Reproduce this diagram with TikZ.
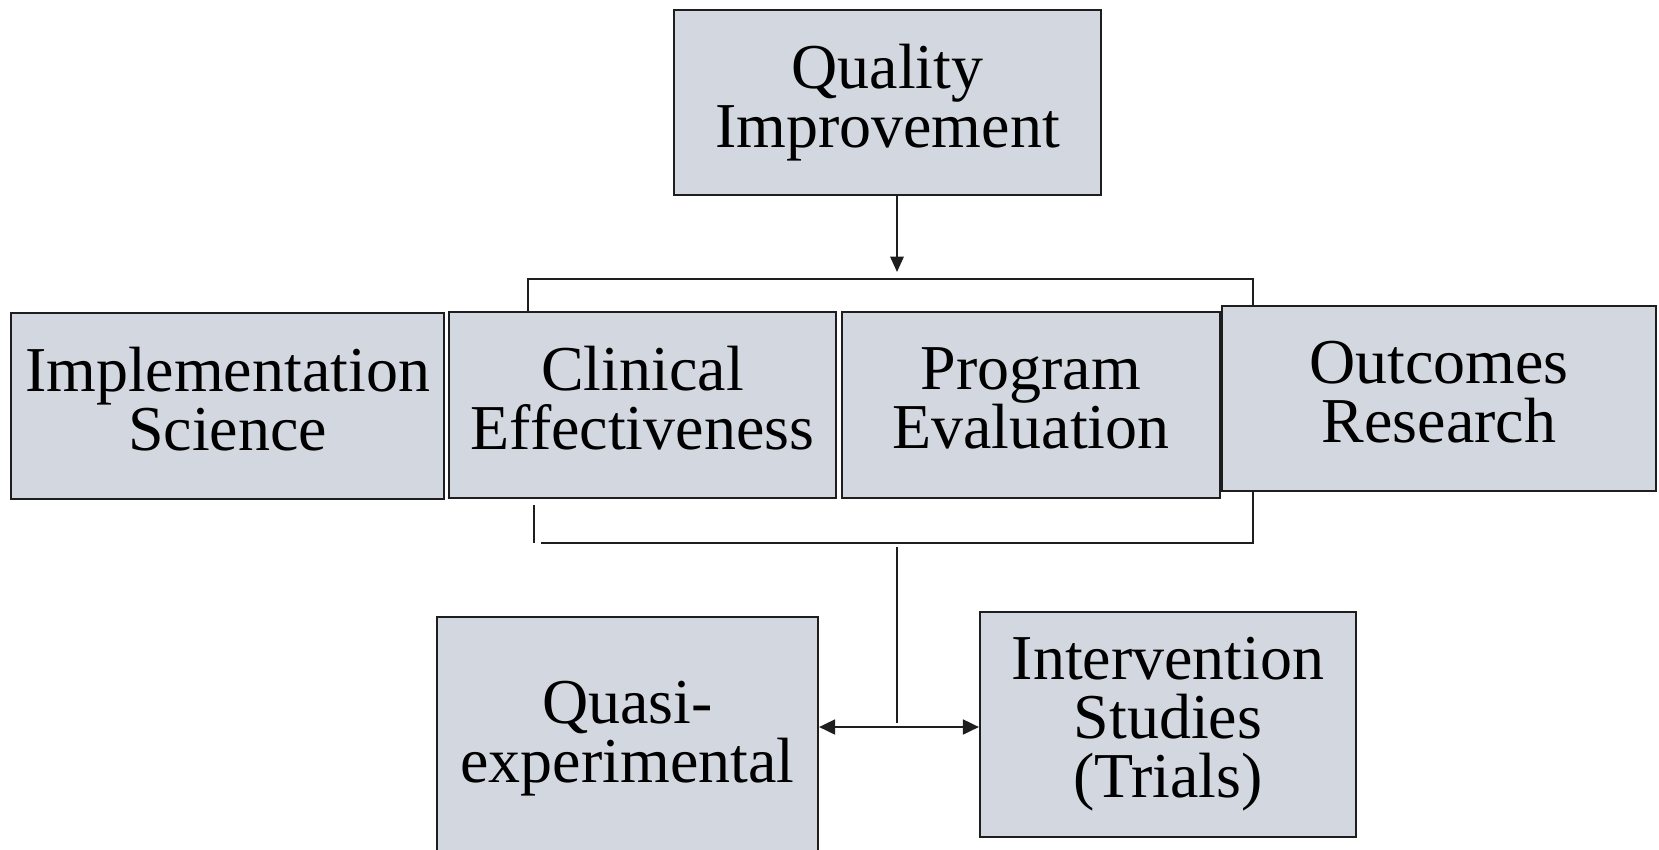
\documentclass[tikz,border=0pt]{standalone}
\usepackage{fontspec}
\setmainfont{Liberation Serif}
\usetikzlibrary{arrows.meta}
\definecolor{boxfill}{RGB}{211,215,224}
\definecolor{edge}{RGB}{30,30,30}
\begin{document}
\begin{tikzpicture}[x=0.02cm,y=-0.02cm,
  box/.style={draw=edge, fill=boxfill, line width=1.3pt, inner sep=0pt,
    align=center, text depth=0.28cm, font=\fontsize{36.4}{33.5}\selectfont},
  link/.style={draw=edge, line width=1.1pt},
  tip/.style={-{Triangle[length=0.31cm,width=0.27cm]}},
  both/.style={{Triangle[length=0.32cm,width=0.3cm]}-{Triangle[length=0.32cm,width=0.3cm]}}]
\useasboundingbox (0,0) rectangle (1659,849);
\clip (0,0) rectangle (1659,849);

% boxes
\node[box, minimum width=8.54cm, minimum height=3.7cm]  (qi)    at (887.5,102.5) {Quality\\Improvement};
\node[box, minimum width=8.66cm, minimum height=3.72cm] (impl)  at (227.5,406)   {Implementation\\Science};
\node[box, minimum width=7.74cm, minimum height=3.72cm] (clin)  at (642.5,405)   {Clinical\\Effectiveness};
\node[box, minimum width=7.56cm, minimum height=3.72cm] (prog)  at (1031,405)    {Program\\Evaluation};
\node[box, minimum width=8.68cm, minimum height=3.7cm]  (outc)  at (1439,398.5)  {Outcomes\\Research};
\node[box, minimum width=7.62cm, minimum height=4.86cm] (quasi) at (627.5,738.5) {Quasi-\\experimental};
\node[box, minimum width=7.52cm, minimum height=4.5cm]  (interv) at (1168,724.5) {Intervention\\Studies\\(Trials)};

% junction points of the connectors
\coordinate (toptip) at (897,272);
\coordinate (topl)   at (528,279);
\coordinate (topr)   at (1253,279);
\coordinate (botl)   at (534,505);
\coordinate (botlc)  at (534,543);
\coordinate (botls)  at (541,543);
\coordinate (botr)   at (1253,543);
\coordinate (stem)   at (897,547);
\coordinate (split)  at (897,723);
\coordinate (arrowy) at (897,727);

% arrow from the top box down to the upper bracket
\draw[link,tip] (qi.south -| toptip) -- (toptip);

% upper bracket
\draw[link] (clin.north -| topl) -- (topl) -- (topr) -- (outc.north -| topr);

% lower bracket
\draw[link] (botl) -- (botlc);
\draw[link] (botls) -- (botr) -- (outc.south -| botr);

% stem down to the two methods
\draw[link] (stem) -- (split);
\draw[link,both] (arrowy -| quasi.east) -- (arrowy -| interv.west);
\end{tikzpicture}
\end{document}
